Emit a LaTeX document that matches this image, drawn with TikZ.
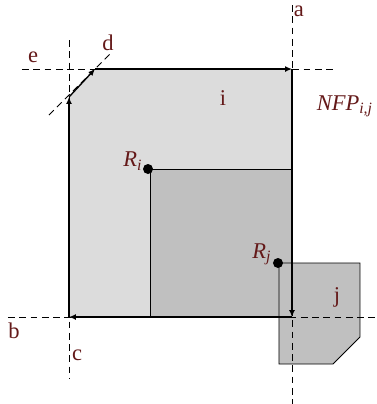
\documentclass[tikz,border=0pt]{standalone}
\usepackage{fontspec}
\setmainfont{Liberation Serif}
\usetikzlibrary{arrows.meta}
\definecolor{lblred}{RGB}{100,25,25}
\definecolor{lightfill}{RGB}{220,220,220}
\definecolor{darkfill}{RGB}{192,192,192}
\tikzset{guide/.style={thin,dash pattern=on 3pt off 2pt},
  nfpedge/.style={semithick,-{Latex[length=3pt,width=2.6pt]}},
  lbl/.style={text=lblred,inner sep=1pt}}

\begin{document}
\begin{tikzpicture}[x=0.444pt,y=-0.444pt]
\useasboundingbox (0,0) rectangle (377,404);
% corners of the NFP
\coordinate (p1) at (69,317);
\coordinate (p2) at (69,97);
\coordinate (p3) at (95,69);
\coordinate (p4) at (292,69);
\coordinate (p5) at (292,317);
\fill[lightfill] (p1) -- (p2) -- (p3) -- (p4) -- (p5) -- cycle;
\draw[thin,fill=darkfill] (150,169) rectangle (p5);% piece i
\draw[thin,fill=darkfill] (279,263) -- (360,263) -- (360,337) -- (333,364) -- (279,364) -- cycle;% piece j

% guide lines
\coordinate (aT) at (292,5);    \coordinate (aB) at (292,404);
\coordinate (eL) at (22,69);    \coordinate (eR) at (337,69);
\coordinate (cT) at (69,40);    \coordinate (cB) at (69,378);
\coordinate (bL) at (8,317);    \coordinate (bR) at (377,317);
\coordinate (dL) at (49,115);   \coordinate (dR) at (112,52);
\draw[guide] (aT) -- (aB);
\draw[guide] (eL) -- (eR);
\draw[guide] (cT) -- (cB);
\draw[guide] (bL) -- (bR);
\draw[guide] (dL) -- (dR);

% contour of the NFP
\draw[nfpedge] (p1) -- (p2);
\draw[nfpedge] (p2) -- (p3);
\draw[nfpedge] (p3) -- (p4);
\draw[nfpedge] (p4) -- (p5);
\draw[nfpedge] (p5) -- (p1);

% reference points
\fill (148,169) circle (5);
\fill (278,263) circle (5);

\node[lbl] (la) at (299,11) {a};
\node[lbl] (le) at (33,57) {e};
\node[lbl] (ld) at (108,43) {d};
\node[lbl] (lb) at (14,331) {b};
\node[lbl] (lc) at (77,355) {c};
\node[lbl] (li) at (223,98) {i};
\node[lbl] (lj) at (337,297) {j};
\node[lbl] (lnfp) at (345,106) {\textit{NFP\textsubscript{i,j}}};
\node[lbl] (lri) at (133,161) {\textit{R\textsubscript{i}}};
\node[lbl] (lrj) at (262,254) {\textit{R\textsubscript{j}}};
\end{tikzpicture}
\end{document}
